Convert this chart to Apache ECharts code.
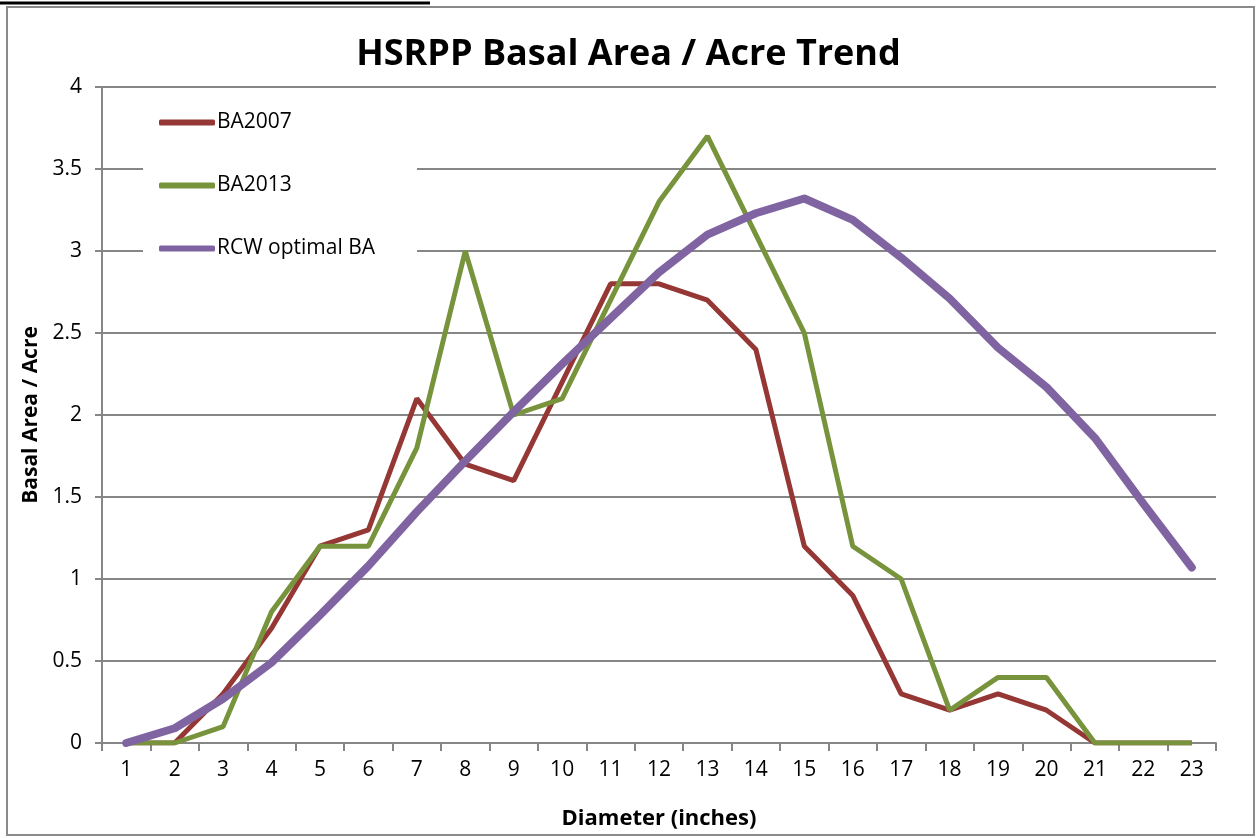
<!DOCTYPE html>
<html>
<head>
<meta charset="utf-8">
<script src="https://cdn.jsdelivr.net/npm/echarts@6/dist/echarts.min.js"></script>
<style>
  html, body { margin: 0; padding: 0; background: #fff; }
  #main { width: 1257px; height: 838px; }
</style>
</head>
<body>
<div id="main"></div>
<script>
// data
var diameters = ['1','2','3','4','5','6','7','8','9','10','11','12','13','14','15','16','17','18','19','20','21','22','23'];
var ba2007 = [0, 0, 0.3, 0.7, 1.2, 1.3, 2.1, 1.7, 1.6, 2.2, 2.8, 2.8, 2.7, 2.4, 1.2, 0.9, 0.3, 0.2, 0.3, 0.2, 0, 0, 0];
var ba2013 = [0, 0, 0.1, 0.8, 1.2, 1.2, 1.8, 3.0, 2.0, 2.1, 2.7, 3.3, 3.7, 3.1, 2.5, 1.2, 1.0, 0.2, 0.4, 0.4, 0, 0, 0];
var rcwOptimal = [0, 0.09, 0.27, 0.49, 0.78, 1.08, 1.41, 1.72, 2.02, 2.31, 2.59, 2.87, 3.10, 3.23, 3.32, 3.19, 2.96, 2.71, 2.41, 2.17, 1.86, 1.46, 1.07];

var font = '"Open Sans", "Liberation Sans", sans-serif';

var myChart = echarts.init(document.getElementById('main'));

var option = {
    animation: false,
    backgroundColor: '#fff',
    textStyle: { fontFamily: font },
    title: {
        text: 'HSRPP Basal Area / Acre Trend',
        left: 'center',
        top: 32,
        textStyle: { fontSize: 36, fontWeight: 'bold', color: '#000', fontFamily: font }
    },
    graphic: [
        { type: 'rect', shape: { x: 7, y: 7, width: 1247, height: 828 }, style: { fill: 'none', stroke: '#8a8a8a', lineWidth: 2 }, z: -1 },
        { type: 'line', shape: { x1: 0, y1: 3, x2: 430, y2: 3 }, style: { stroke: '#000', lineWidth: 3 } }
    ],
    legend: {
        left: 143,
        top: 106,
        orient: 'vertical',
        icon: 'roundRect',
        itemGap: 42,
        itemWidth: 56,
        itemHeight: 6,
        padding: [6, 42, 10, 16],
        backgroundColor: '#fff',
        z: 5,
        textStyle: { fontSize: 21, color: '#000', fontFamily: font, padding: [0, 0, 0, -3] },
        data: ['BA2007', 'BA2013', 'RCW optimal BA']
    },
    grid: { left: 102, right: 41, top: 87, bottom: 95 },
    xAxis: {
        type: 'category',
        data: diameters,
        boundaryGap: true,
        name: 'Diameter (inches)',
        nameLocation: 'middle',
        nameGap: 65,
        nameTextStyle: { fontSize: 22, fontWeight: 'bold', color: '#000', fontFamily: font },
        axisLine: { lineStyle: { color: '#868686', width: 2 } },
        axisTick: { show: true, length: 8, alignWithLabel: false, lineStyle: { color: '#868686', width: 2 } },
        axisLabel: { fontSize: 21, color: '#000', margin: 17, fontFamily: font }
    },
    yAxis: {
        type: 'value',
        min: 0,
        max: 4,
        interval: 0.5,
        name: 'Basal Area / Acre',
        nameLocation: 'middle',
        nameGap: 60,
        nameTextStyle: { fontSize: 21, fontWeight: 'bold', color: '#000', fontFamily: font },
        axisLine: { show: true, lineStyle: { color: '#868686', width: 2 } },
        axisTick: { show: true, length: 7, lineStyle: { color: '#868686', width: 2 } },
        axisLabel: { fontSize: 21, color: '#000', margin: 20, fontFamily: font },
        splitLine: { lineStyle: { color: '#868686', width: 2 } }
    },
    series: [
        {
            name: 'BA2007',
            type: 'line',
            data: ba2007,
            symbol: 'none',
            color: '#953735',
            lineStyle: { width: 5, color: '#953735' },
            z: 2
        },
        {
            name: 'BA2013',
            type: 'line',
            data: ba2013,
            symbol: 'none',
            color: '#77933C',
            lineStyle: { width: 5, color: '#77933C' },
            z: 3
        },
        {
            name: 'RCW optimal BA',
            type: 'line',
            data: rcwOptimal,
            symbol: 'none',
            color: '#8064A2',
            lineStyle: { width: 8, color: '#8064A2', cap: 'round', join: 'round' },
            z: 4
        }
    ]
};

myChart.setOption(option);
</script>
</body>
</html>
